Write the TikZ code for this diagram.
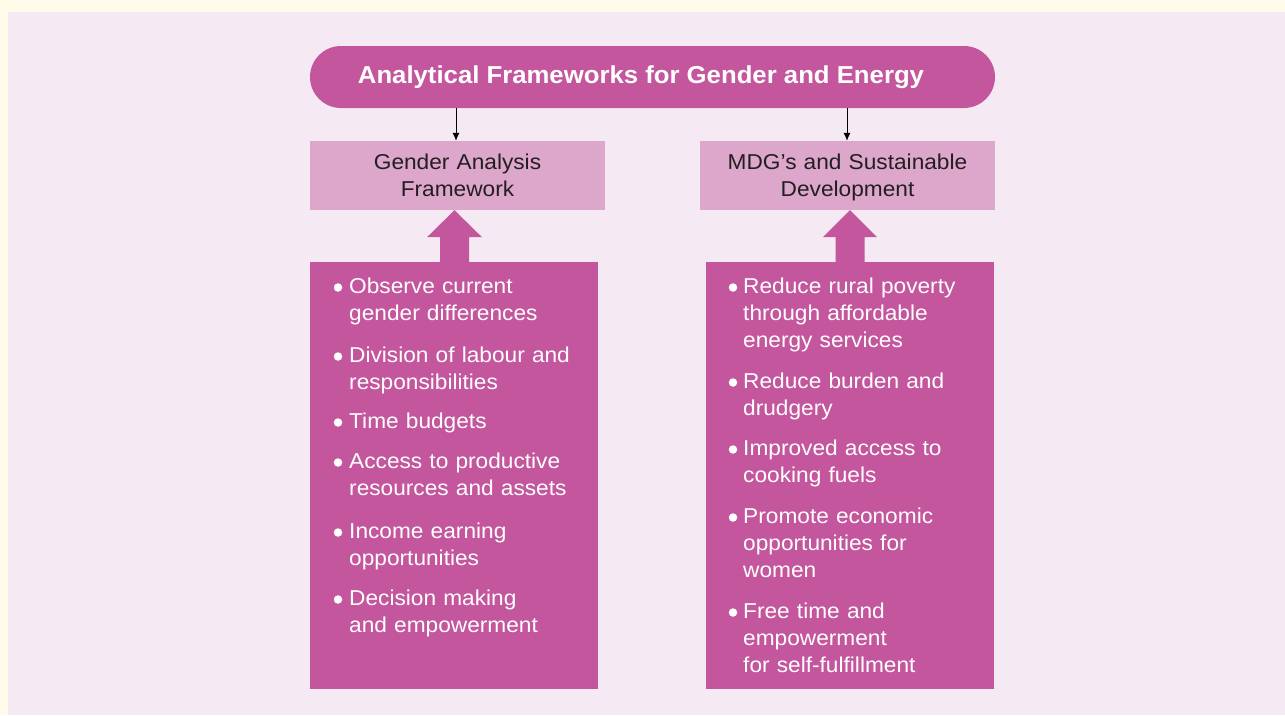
\documentclass[tikz,border=0pt]{standalone}
\usepackage{fontspec}
\setmainfont{Liberation Sans}
\newfontfamily\bodyfont[FakeStretch=1.055]{Liberation Sans}
\newfontfamily\headfont[FakeStretch=1.05]{Liberation Sans}
\usetikzlibrary{arrows.meta,calc}
\definecolor{cream}{HTML}{FFFBE8}
\definecolor{panel}{HTML}{F5EAF3}
\definecolor{dark}{HTML}{C4569E}
\definecolor{light}{HTML}{DDA6CB}
\definecolor{ink}{HTML}{231F20}
\tikzset{
  pill/.style={fill=dark, rounded corners=31pt, minimum width=685pt, minimum height=62pt, inner sep=0pt},
  lbox/.style={fill=light, minimum width=295pt, minimum height=69pt, inner sep=0pt},
  dbox/.style={fill=dark, minimum width=288pt, minimum height=427pt, inner sep=0pt},
  titletext/.style={text=white, font=\headfont\bfseries\fontsize{24.5}{29}\selectfont, inner sep=0pt, anchor=base},
  boxtext/.style={text=ink, font=\bodyfont\fontsize{21.5}{27.5}\selectfont, inner sep=0pt, anchor=base, align=center, text width=290pt},
  item/.style={text=white, font=\bodyfont\fontsize{21.5}{27}\selectfont, inner sep=0pt, anchor=base west, align=left, text width=245pt},
  bul/.style={circle, fill=white, minimum size=8.5pt, inner sep=0pt},
  thinarrow/.style={draw=black, line width=1pt, -{Latex[length=8pt,width=7pt]}},
  blockarrow/.style={fill=dark}
}
\begin{document}
\begin{tikzpicture}[x=1pt,y=-1pt]
\useasboundingbox (0,0) rectangle (1285,715);
\fill[cream] (0,0) rectangle (1285,715);
\fill[panel] (8,12) rectangle (1285,715);

% title
\node[pill] (title) at (652.5,77) {};
\node[titletext] (titlet) at (641,83.5) {Analytical Frameworks for Gender and Energy};

% light boxes
\node[lbox] (gaf) at (457.5,175.5) {};
\node[lbox] (mdg) at (847.5,175.5) {};
\node[boxtext] (gaft) at (457.5,169) {Gender Analysis\\Framework};
\node[boxtext] (mdgt) at (847.5,169) {MDG’s and Sustainable\\Development};

% thin arrows
\draw[thinarrow] (title.south -| 456,0) -- (gaf.north -| 456,0);
\draw[thinarrow] (title.south -| 847,0) -- (mdg.north -| 847,0);

% dark boxes
\node[dbox] (gl) at (454,475.5) {};
\node[dbox] (gr) at (850,475.5) {};

% block arrows
\coordinate (tipL) at (gaf.south -| 454.5,0);
\coordinate (tipR) at (mdg.south -| 850,0);
\fill[blockarrow] (tipL) -- ++(27.5,27) -- ++(-13,0) -- ++(0,26) -- ++(-29,0) -- ++(0,-26) -- ++(-13,0) -- cycle;
\fill[blockarrow] (tipR) -- ++(27,27) -- ++(-12.5,0) -- ++(0,26) -- ++(-29,0) -- ++(0,-26) -- ++(-12.5,0) -- cycle;

% left items
\node[bul] (lb1) at (338,287.5) {};
\node[item] (l1) at (349,293) {Observe current\\gender differences};
\node[bul] (lb2) at (338,356.5) {};
\node[item] (l2) at (349,362) {Division of labour and\\responsibilities};
\node[bul] (lb3) at (338,422.5) {};
\node[item] (l3) at (349,428) {Time budgets};
\node[bul] (lb4) at (338,462.5) {};
\node[item] (l4) at (349,468) {Access to productive\\resources and assets};
\node[bul] (lb5) at (338,532.5) {};
\node[item] (l5) at (349,538) {Income earning\\opportunities};
\node[bul] (lb6) at (338,599.5) {};
\node[item] (l6) at (349,605) {Decision making\\and empowerment};

% right items
\node[bul] (rb1) at (733,287.5) {};
\node[item] (r1) at (743,293) {Reduce rural poverty\\through affordable\\energy services};
\node[bul] (rb2) at (733,382.5) {};
\node[item] (r2) at (743,388) {Reduce burden and\\drudgery};
\node[bul] (rb3) at (733,449.5) {};
\node[item] (r3) at (743,455) {Improved access to\\cooking fuels};
\node[bul] (rb4) at (733,517.5) {};
\node[item] (r4) at (743,523) {Promote economic\\opportunities for\\women};
\node[bul] (rb5) at (733,612.5) {};
\node[item] (r5) at (743,618) {Free time and\\empowerment\\for self-fulfillment};
\end{tikzpicture}
\end{document}
